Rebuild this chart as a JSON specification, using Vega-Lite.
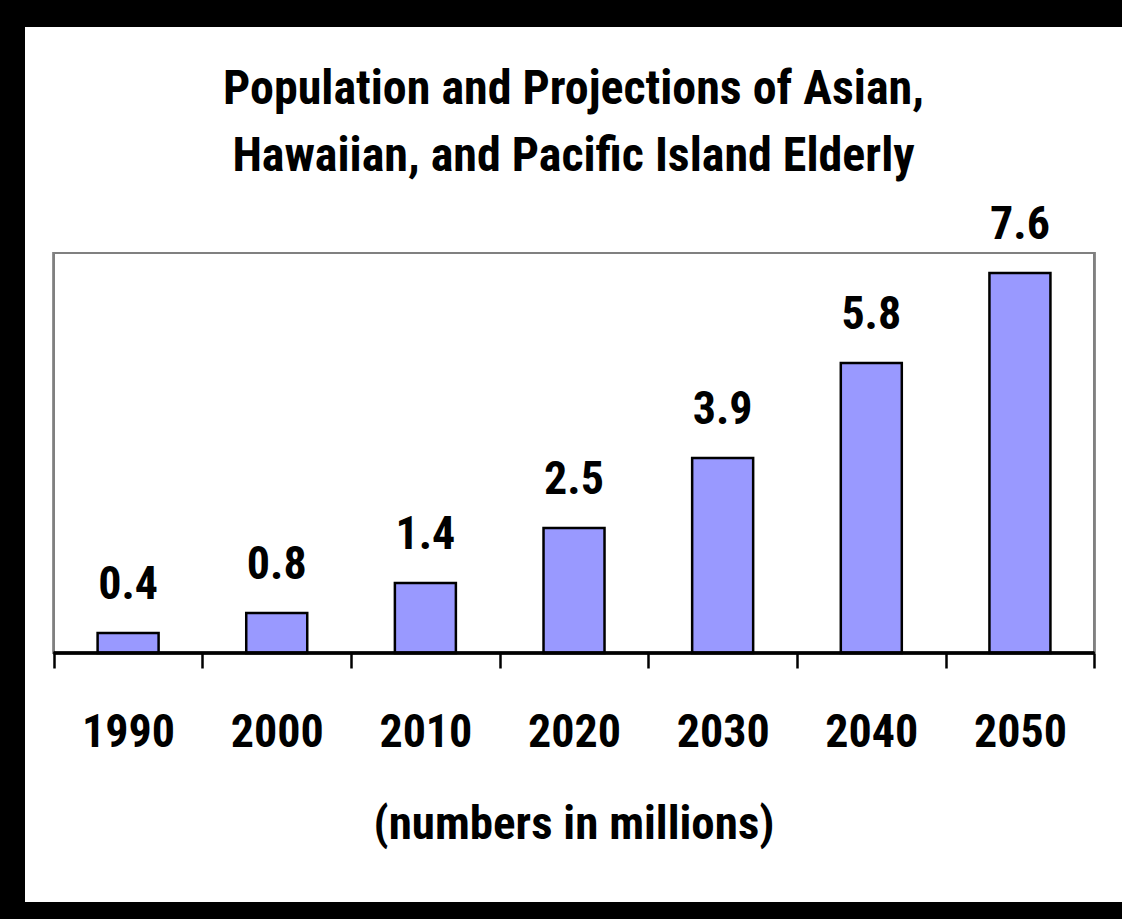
{
  "$schema": "https://vega.github.io/schema/vega-lite/v6.json",
  "width": 1097,
  "height": 875,
  "autosize": "none",
  "padding": {"left": 25, "top": 27, "right": 0, "bottom": 17},
  "background": "black",
  "config": {
    "view": {"fill": "white", "stroke": null},
    "font": "Roboto Condensed, Roboto, sans-serif"
  },
  "title": {
    "text": ["Population and Projections of Asian,", "Hawaiian, and Pacific Island Elderly"],
    "fontSize": 48,
    "fontWeight": "bold",
    "color": "black",
    "anchor": "middle",
    "lineHeight": 67,
    "offset": -154
  },
  "data": {
    "values": [
      {"year": 1990, "value": 0.4},
      {"year": 2000, "value": 0.8},
      {"year": 2010, "value": 1.4},
      {"year": 2020, "value": 2.5},
      {"year": 2030, "value": 3.9},
      {"year": 2040, "value": 5.8},
      {"year": 2050, "value": 7.6}
    ]
  },
  "resolve": {"axis": {"x": "independent"}},
  "layer": [
    {
      "mark": {"type": "rect", "fill": "transparent", "stroke": "#808080", "strokeWidth": 2},
      "encoding": {
        "x": {
          "datum": 1985,
          "type": "quantitative",
          "scale": {"domain": [1983.4, 2056.53], "nice": false, "zero": false},
          "axis": {
            "orient": "bottom",
            "values": [1985, 1995, 2005, 2015, 2025, 2035, 2045, 2055],
            "labels": false,
            "domain": false,
            "grid": false,
            "tickSize": 15,
            "tickWidth": 2.5,
            "tickColor": "black",
            "offset": -249,
            "title": null
          }
        },
        "x2": {"datum": 2055},
        "y": {"datum": 0, "type": "quantitative", "scale": {"domain": [-4.98, 12.52], "nice": false, "zero": false}, "axis": null},
        "y2": {"datum": 8}
      }
    },
    {
      "mark": {"type": "bar", "size": 61, "fill": "#9999FF", "stroke": "black", "strokeWidth": 2.5},
      "encoding": {
        "x": {
          "field": "year",
          "type": "quantitative",
          "axis": {
            "orient": "bottom",
            "values": [1990, 2000, 2010, 2020, 2030, 2040, 2050],
            "format": "d",
            "labelOverlap": false,
            "labelFlush": false,
            "labelBaseline": "alphabetic",
            "labelFontSize": 46,
            "labelFontWeight": "bold",
            "labelColor": "black",
            "labelPadding": 93,
            "ticks": false,
            "domain": false,
            "grid": false,
            "offset": -249,
            "title": "(numbers in millions)",
            "titleFontSize": 47,
            "titleFontWeight": "bold",
            "titleColor": "black",
            "titlePadding": 46
          }
        },
        "y": {"field": "value", "type": "quantitative", "axis": null},
        "y2": {"datum": 0}
      }
    },
    {
      "mark": {"type": "text", "dy": -34, "baseline": "alphabetic", "fontSize": 46, "fontWeight": "bold", "color": "black"},
      "encoding": {
        "x": {"field": "year", "type": "quantitative", "axis": null},
        "y": {"field": "value", "type": "quantitative", "axis": null},
        "text": {"field": "value", "type": "quantitative", "format": ".1f"}
      }
    },
    {
      "mark": {"type": "rule", "color": "black", "strokeWidth": 2.5},
      "encoding": {
        "x": {"datum": 1985, "type": "quantitative", "axis": null},
        "x2": {"datum": 2055},
        "y": {"datum": 0, "type": "quantitative", "axis": null}
      }
    }
  ]
}
